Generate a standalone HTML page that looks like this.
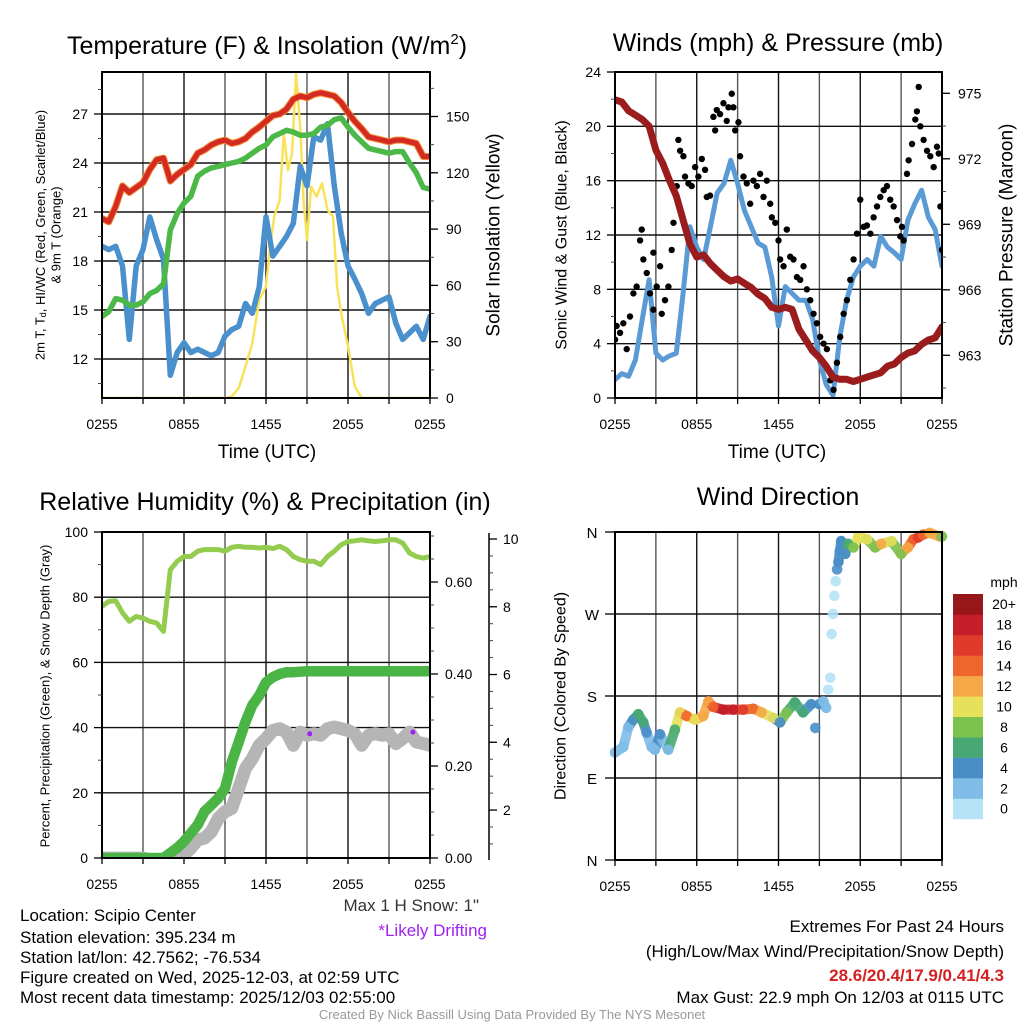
<!DOCTYPE html>
<html><head><meta charset="utf-8"><title>NYS Mesonet Scipio Center</title>
<style>
html,body{margin:0;padding:0;background:#fff;}
svg{display:block;font-family:"Liberation Sans",Arial,sans-serif;}
</style></head>
<body>
<svg id="chart" xmlns="http://www.w3.org/2000/svg" width="1024" height="1024" viewBox="0 0 1024 1024">
<defs>
<clipPath id="c1"><rect x="102" y="72" width="328" height="326"/></clipPath>
<clipPath id="c2"><rect x="615" y="72" width="327" height="326"/></clipPath>
<clipPath id="c3"><rect x="102" y="532" width="328" height="326"/></clipPath>
<clipPath id="c4"><rect x="605" y="525" width="345" height="342"/></clipPath>
</defs>
<rect x="0" y="0" width="1024" height="1024" fill="#fff"/>
<g font-size="25" text-anchor="middle" fill="#000">
<text x="267" y="54">Temperature (F) &amp; Insolation (W/m<tspan font-size="15" dy="-10">2</tspan><tspan dy="10">)</tspan></text>
<text x="778" y="51">Winds (mph) &amp; Pressure (mb)</text>
<text x="265" y="510">Relative Humidity (%) &amp; Precipitation (in)</text>
<text x="778" y="505">Wind Direction</text>
</g>
<g font-size="19" text-anchor="middle">
<text x="267" y="458">Time (UTC)</text>
<text x="777" y="458">Time (UTC)</text>
<text x="494" y="235" transform="rotate(-90 494 235)" dominant-baseline="central">Solar Insolation (Yellow)</text>
<text x="1007" y="235" transform="rotate(-90 1007 235)" dominant-baseline="central">Station Pressure (Maroon)</text>
</g>
<g font-size="16" text-anchor="middle">
<text x="562" y="235" transform="rotate(-90 562 235)" dominant-baseline="central">Sonic Wind &amp; Gust (Blue, Black)</text>
<text x="561" y="696" transform="rotate(-90 561 696)" dominant-baseline="central">Direction (Colored By Speed)</text>
</g>
<g font-size="13" text-anchor="middle">
<text x="40" y="235" transform="rotate(-90 40 235)" dominant-baseline="central">2m T, T<tspan font-size="9" dy="3">d</tspan><tspan dy="-3">, HI/WC (Red, Green, Scarlet/Blue)</tspan></text>
<text x="56" y="235" transform="rotate(-90 56 235)" dominant-baseline="central">&amp; 9m T (Orange)</text>
<text x="45" y="696" transform="rotate(-90 45 696)" dominant-baseline="central">Percent, Precipitation (Green), &amp; Snow Depth (Gray)</text>
</g>
<g font-size="17" fill="#000">
<text x="20" y="921">Location: Scipio Center</text>
<text x="20" y="943">Station elevation: 395.234 m</text>
<text x="20" y="963">Station lat/lon: 42.7562; -76.534</text>
<text x="20" y="983">Figure created on Wed, 2025-12-03, at 02:59 UTC</text>
<text x="20" y="1003">Most recent data timestamp: 2025/12/03 02:55:00</text>
<text x="479" y="911" text-anchor="end" fill="#333">Max 1 H Snow: 1"</text>
<text x="487" y="936" text-anchor="end" fill="#a020f0">*Likely Drifting</text>
<text x="1004" y="932" text-anchor="end">Extremes For Past 24 Hours</text>
<text x="1004" y="957" text-anchor="end">(High/Low/Max Wind/Precipitation/Snow Depth)</text>
<text x="1004" y="981" text-anchor="end" fill="#d42020" font-weight="bold">28.6/20.4/17.9/0.41/4.3</text>
<text x="1004" y="1003" text-anchor="end">Max Gust: 22.9 mph On 12/03 at 0115 UTC</text>
</g>
<text x="512" y="1019" font-size="13" fill="#999" text-anchor="middle">Created By Nick Bassill Using Data Provided By The NYS Mesonet</text>
<g id="layer"></g>
</svg>
<script>
// ---------- data (half-hour steps from 0255 UTC) ----------
const xTickLabels = ["0255","0855","1455","2055","0255"];
const xTickHours = [0,6,12,18,24];
const tempRed = [20.6,20.4,21.35,22.6,22.2,22.5,22.8,23.6,24.2,24.3,22.9,23.3,23.6,23.9,24.6,24.8,25.1,25.3,25.4,25.2,25.3,25.5,25.9,26.2,26.55,26.9,27.0,27.3,27.9,28.1,28.0,28.2,28.3,28.2,28.1,27.7,27.1,26.55,26.1,25.6,25.5,25.4,25.3,25.4,25.4,25.3,25.2,24.4,24.4];
const tempGreen = [14.6,14.9,15.7,15.6,15.3,15.3,15.5,16.0,16.2,16.6,19.9,20.9,21.55,21.96,23.2,23.5,23.7,23.8,23.9,24.0,24.1,24.3,24.6,24.9,25.1,25.6,25.8,26.0,25.9,25.7,25.7,25.8,26.2,26.3,26.65,26.76,26.2,25.7,25.3,24.9,24.8,24.7,24.6,24.7,24.7,24.0,23.4,22.5,22.4];
const tempBlue = [18.9,18.7,18.9,17.7,13.2,17.7,18.7,20.7,19.3,18.1,11.0,12.4,13.0,12.4,12.6,12.4,12.2,12.4,13.4,13.8,14.0,15.4,14.8,16.4,20.7,18.3,18.9,19.5,20.3,23.8,22.6,25.6,25.4,26.4,22.6,19.7,17.7,16.9,16.0,14.8,15.4,15.6,15.8,14.2,13.2,13.6,14.0,13.2,14.6];
const solarHours = [0,9.1,9.5,10,10.5,11,11.5,12,12.3,12.6,13,13.3,13.6,13.9,14.2,14.5,14.75,15.0,15.3,15.7,16.1,16.5,16.9,17.2,17.5,18,18.5,19,24];
const solarVals = [0,0,0.9,5.3,16.8,29.2,52.3,59.4,80.6,96.6,105.4,140.9,121.4,130.3,172.8,144.5,105.4,84.2,112.6,107.3,114.4,100.2,96.6,59.4,45.2,27.5,6.2,0,0];
const tempTicks = [12,15,18,21,24,27];
const solarTicks = [0,30,60,90,120,150];

const windSonic = [1.35,1.8,1.6,2.8,5.8,8.7,3.3,2.8,3.1,3.3,7.7,12.6,11.1,10.2,12.6,15.1,15.8,17.5,15.8,13.8,12.6,11.4,11.1,8.9,5.3,8.2,7.7,7.2,7.2,5.8,2.8,1.0,0.2,4.5,7.2,8.9,9.7,10.2,9.7,11.9,11.1,10.7,10.2,13.1,14.3,15.3,13.3,12.4,9.7];
const pressure = [974.7,974.6,974.2,974.0,973.8,973.5,972.4,971.8,971.0,970.3,969.2,968.1,967.5,967.6,967.2,966.9,966.6,966.4,966.5,966.3,966.1,965.8,965.6,965.2,965.1,965.2,965.1,964.2,963.7,963.2,962.9,962.5,962.0,961.9,961.9,961.8,961.9,962.0,962.1,962.2,962.5,962.6,962.9,963.1,963.2,963.5,963.7,963.8,964.3];
const gustHours = [0,0.12,0.37,0.61,0.86,1.10,1.35,1.59,1.84,1.96,2.08,2.33,2.57,2.82,2.82,3.06,3.31,3.43,3.67,3.92,4.16,4.29,4.53,4.65,4.78,5.02,5.14,5.39,5.63,5.88,6.12,6.37,6.61,6.74,6.98,7.22,7.35,7.47,7.71,7.96,8.20,8.33,8.57,8.69,8.82,9.06,9.18,9.43,9.67,9.92,10.16,10.41,10.65,10.90,11.14,11.39,11.51,11.76,12.0,12.12,12.37,12.61,12.86,13.10,13.35,13.59,13.84,14.08,14.33,14.57,14.82,15.06,15.31,15.55,15.80,16.04,16.29,16.53,16.78,17.02,17.27,17.51,17.76,18.0,18.25,18.49,18.74,18.98,19.23,19.47,19.72,19.96,20.2,20.45,20.7,20.94,21.06,21.18,21.43,21.55,21.8,22.04,22.16,22.29,22.41,22.65,22.9,23.14,23.39,23.63,23.76,23.88,24.0];
const gustVals = [4.3,5.3,4.8,5.5,3.6,6.0,7.7,8.2,11.6,12.4,10.2,9.2,7.7,10.7,6.5,8.2,9.7,6.2,7.2,8.2,10.9,12.9,15.6,19.0,18.2,17.8,16.3,15.8,15.6,17.0,16.3,17.6,16.8,14.8,14.9,20.7,19.7,21.2,20.9,21.7,20.4,21.4,22.4,21.4,19.7,20.3,17.8,16.3,15.8,14.3,16.0,15.6,16.5,14.8,16.0,14.3,13.3,12.9,11.6,10.2,9.7,12.4,10.4,10.2,8.9,8.7,9.7,8.0,7.2,6.2,5.5,4.5,4.0,3.6,1.3,0.6,2.6,4.5,6.2,7.2,8.7,10.2,12.1,14.6,12.6,12.7,12.1,13.3,14.1,14.8,15.3,15.6,14.6,14.1,13.1,11.9,12.6,11.6,16.5,17.5,18.7,20.5,21.1,22.9,20.0,19.0,18.2,17.8,17.0,18.5,18.0,14.1,10.9];
const windTicks = [0,4,8,12,16,20,24];
const pressureTicks = [963,966,969,972,975];

const rhVals = [77.2,78.7,78.9,75.2,72.6,74.1,73.6,72.6,72.1,69.5,88.4,91.0,92.5,92.5,94.1,94.6,94.6,94.6,94.1,95.3,95.6,95.3,95.3,95.1,95.3,94.9,95.6,94.6,92.5,91.5,91.0,91.0,90.0,92.5,94.1,96.1,97.1,97.3,97.6,97.3,97.1,97.3,97.6,97.6,96.6,93.6,92.5,92.0,92.5];
const precipVals = [0,0,0,0,0,0,0,0,0,0,0.011,0.022,0.036,0.054,0.072,0.101,0.115,0.130,0.151,0.209,0.252,0.296,0.332,0.353,0.382,0.393,0.400,0.404,0.404,0.405,0.406,0.406,0.406,0.406,0.406,0.406,0.406,0.406,0.406,0.406,0.406,0.406,0.406,0.406,0.406,0.406,0.406,0.406,0.406];
const snowVals = [0.58,0.58,0.58,0.58,0.58,0.58,0.58,0.53,0.48,0.48,0.48,0.53,0.68,0.87,1.12,1.17,1.36,1.75,1.95,2.05,2.64,3.23,3.52,3.91,4.11,4.35,4.40,4.30,3.91,4.30,4.21,4.25,4.21,4.40,4.45,4.40,4.35,4.25,3.91,4.21,4.25,4.21,4.25,3.96,4.11,4.30,4.01,3.96,3.91];
const driftHours = [15.2,22.75];
const driftVals = [4.25,4.3];
const rhTicks = [0,20,40,60,80,100];
const precipTicks = [0,0.2,0.4,0.6];
const precipTickLabels = ["0.00","0.20","0.40","0.60"];
const snowTicks = [2,4,6,8,10];

const dirHours = [0.0,0.61,0.98,1.34,1.71,2.08,2.32,2.69,2.93,3.30,3.91,4.40,4.77,5.26,5.87,6.48,6.85,7.21,7.95,8.68,9.41,10.15,10.76,11.61,12.11,12.6,13.2,13.8,14.4,14.7,15.0,15.3,15.5,15.65,15.8,15.9,16.0,16.1,16.2,16.3,16.4,16.5,16.6,16.9,17.1,17.5,17.85,18.5,19.1,19.55,20.3,21.0,21.5,21.9,22.25,22.6,23.1,23.85,24.0];
const dirVals = [118,124,146,154,160,151,140,124,121,138,121,143,162,158,154,158,174,168,165,165,165,166,162,156,151,162,173,162,171,145,171,174,167,187,200,248,270,290,306,319,327,339,350,336,347,343,355,352,343,347,350,336,343,352,354,357,359,355,355];
const dirSpeed = [2,2,2,4,6,6,4,2,2,4,2,6,10,14,10,12,12,14,18,18,16,14,12,10,4,8,6,6,4,4,4,2,2,0,0,0,0,0,0,4,4,4,4,4,6,8,10,10,8,12,10,8,12,14,16,14,12,12,8];
const dirTicks = [0,90,180,270,360];
const dirTickLabels = ["N","E","S","W","N"];
const cbLabels = ["0","2","4","6","8","10","12","14","16","18","20+"];
const cbColors = ["#b5e3f6","#7fbde8","#4a8ec8","#48a873","#7cc24f","#e6e05a","#f5a847","#f0652b","#df3a2c","#c41e28","#961619"];

// ---------- helpers ----------
const NS = "http://www.w3.org/2000/svg";
const layer = document.getElementById('layer');
function mk(tag, a){ const e=document.createElementNS(NS,tag); for(const k in a) e.setAttribute(k,a[k]); return e; }
function lin(d0,d1,r0,r1){ return v => r0 + (v-d0)/(d1-d0)*(r1-r0); }
const halfHours = tempRed.map((_,i)=>i*0.5);

const P1 = {x0:102,w:328,top:72,bot:398};
const P2 = {x0:615,w:327,top:72,bot:398};
const P3 = {x0:102,w:328,top:532,bot:858};
const P4 = {x0:615,w:327,top:532,bot:860};
function xs(p){ return lin(0,24,p.x0,p.x0+p.w); }

const yT = lin(12,27,359,114);
const yS = lin(0,150,398,116.5);
const yW = lin(0,24,398,72);
const yP = lin(963,975,355.3,93.3);
const yRH = lin(0,100,858,532);
const yPr = lin(0,0.6,858,582);
const ySn = lin(0,10,877.8,539);
const yD = lin(0,360,860,532);

function pathFrom(hs, vs, xf, yf){
  let d=""; for(let i=0;i<vs.length;i++){ d += (i?"L":"M") + xf(hs[i]).toFixed(1) + " " + yf(vs[i]).toFixed(1); } return d;
}

function drawFrameAndGrid(p, name, gridYs){
  const g = mk('g',{});
  
  
  const xf = xs(p);
  for(let h=3; h<24; h+=3){
    const l = mk('line',{x1:xf(h),x2:xf(h),y1:p.top,y2:p.bot,stroke:(h%6===0?'#111':'#555'),'stroke-width':1.4});
    
    
    g.appendChild(l);
  }
  gridYs.forEach(y=>{
    const l = mk('line',{x1:p.x0,x2:p.x0+p.w,y1:y,y2:y,stroke:'#111','stroke-width':1.4});
    
    
    g.appendChild(l);
  });
  layer.appendChild(g);
}
function drawBorder(p, name){
  const r = mk('rect',{x:p.x0,y:p.top,width:p.w,height:p.bot-p.top,fill:'none',stroke:'#000','stroke-width':2});
  
  
  layer.appendChild(r);
  const xf = xs(p);
  for(let h=0; h<=24; h+=3){
    const t = mk('line',{x1:xf(h),x2:xf(h),y1:p.bot,y2:p.bot+6,stroke:'#000','stroke-width':1.3});
    
    
    layer.appendChild(t);
  }
  xTickLabels.forEach((lab,i)=>{
    const t = mk('text',{x:xf(xTickHours[i]),y:p.bot+31,'font-size':14,'text-anchor':'middle'});
    t.textContent = lab;
    
    
    layer.appendChild(t);
  });
}
function yAxis(name, xAxis, side, ticks, labels, yf, minorStep, lo, hi, fmtX, yMin, yMax){
  for(let v=lo; v<=hi+1e-9; v+=minorStep){
    const y=yf(v);
    if(y<yMin-0.5 || y>yMax+0.5) continue;
    const t = mk('line',{x1:xAxis,x2:xAxis+side*4,y1:y,y2:y,stroke:'#444','stroke-width':1});
    
    
    layer.appendChild(t);
  }
  ticks.forEach((v,i)=>{
    const y=yf(v);
    const t = mk('line',{x1:xAxis,x2:xAxis+side*8,y1:y,y2:y,stroke:'#000','stroke-width':1.3});
    
    
    layer.appendChild(t);
    const tx = mk('text',{x:xAxis+side*(fmtX||13),y:y+5,'font-size':14,'text-anchor':side<0?'end':'start'});
    tx.textContent = labels[i];
    
    
    layer.appendChild(tx);
  });
}
function line(hs, vs, xf, yf, color, width, clip, name){
  const pth = mk('path',{d:pathFrom(hs,vs,xf,yf),fill:'none',stroke:color,'stroke-width':width,'stroke-linejoin':'round','stroke-linecap':'round','clip-path':'url(#'+clip+')'});
  
  
  layer.appendChild(pth);
}

// ---------- Panel 1: temperature ----------
drawFrameAndGrid(P1,'temp',tempTicks.map(yT));
const x1 = xs(P1);
line(solarHours, solarVals, x1, yS, '#f8e25a', 2.5, 'c1', 'solar-line');
line(halfHours, tempBlue, x1, yT, '#4a90cc', 5.5, 'c1', 'wetbulb-blue-line');
line(halfHours, tempGreen, x1, yT, '#4cb848', 5.5, 'c1', 'dewpoint-green-line');
line(halfHours, tempRed, x1, yT, '#f28a30', 7, 'c1', '9m-temp-orange-line');
line(halfHours, tempRed, x1, yT, '#d42a24', 5, 'c1', 'temp-red-line');
drawBorder(P1,'temp');
yAxis('temp-y', 102, -1, tempTicks, tempTicks.map(String), yT, 1.5, 10.5, 28.5, 14, 72, 398);
yAxis('solar-y', 430, 1, solarTicks, solarTicks.map(String), yS, 15, 0, 165, 16, 72, 398);

// ---------- Panel 2: winds ----------
drawFrameAndGrid(P2,'wind',windTicks.map(yW));
const x2 = xs(P2);
line(halfHours, windSonic, x2, yW, '#5b9bd5', 5, 'c2', 'sonic-wind-line');
gustHours.forEach((h,i)=>{
  const c = mk('circle',{cx:x2(h),cy:yW(gustVals[i]),r:3.2,fill:'#000','clip-path':'url(#c2)'});
  
  
  layer.appendChild(c);
});
line(halfHours, pressure, x2, yP, '#9b1c1c', 7, 'c2', 'pressure-line');
drawBorder(P2,'wind');
yAxis('wind-y', 615, -1, windTicks, windTicks.map(String), yW, 2, 0, 24, 14, 72, 398);
yAxis('pressure-y', 942, 1, pressureTicks, pressureTicks.map(String), yP, 1.5, 961.5, 976.5, 16, 72, 398);

// ---------- Panel 3: humidity ----------
drawFrameAndGrid(P3,'rh',rhTicks.map(yRH));
const x3 = xs(P3);
line(halfHours, rhVals, x3, yRH, '#93cc4f', 5, 'c3', 'humidity-line');
line(halfHours, snowVals, x3, ySn, '#b5b5b5', 13, 'c3', 'snow-depth-line');
line(halfHours, precipVals, x3, yPr, '#4ab545', 10.5, 'c3', 'precip-line');
driftHours.forEach((h,i)=>{
  const c = mk('circle',{cx:x3(h),cy:ySn(driftVals[i]),r:2.5,fill:'#a020f0'});
  
  
  layer.appendChild(c);
});
drawBorder(P3,'rh');
yAxis('rh-y', 102, -1, rhTicks, rhTicks.map(String), yRH, 10, 0, 100, 14, 532, 858);
yAxis('precip-y', 430, 1, precipTicks, precipTickLabels, yPr, 0.05, 0, 0.7, 15, 532, 858);
const snowAx = mk('line',{x1:489,x2:489,y1:533,y2:860,stroke:'#000','stroke-width':1.5});


layer.appendChild(snowAx);
yAxis('snow-y', 489, 1, snowTicks, snowTicks.map(String), ySn, 0.5, 0.5, 10, 14, 533, 860);

// ---------- Panel 4: wind direction ----------
drawFrameAndGrid(P4,'dir',dirTicks.map(yD));
const x4 = xs(P4);
function spColor(s){ return cbColors[Math.min(10, Math.round(s/2))]; }
for(let i=1;i<dirHours.length;i++){
  if(Math.abs(dirVals[i]-dirVals[i-1])<25 && dirVals[i]<240 === dirVals[i-1]<240 && !(dirVals[i]>185 && dirVals[i]<330)){
    const s = mk('line',{x1:x4(dirHours[i-1]),y1:yD(dirVals[i-1]),x2:x4(dirHours[i]),y2:yD(dirVals[i]),stroke:spColor(dirSpeed[i]),'stroke-width':10,'stroke-linecap':'round',opacity:0.9,'clip-path':'url(#c4)'});
    
    
    layer.appendChild(s);
  }
}
dirHours.forEach((h,i)=>{
  const c = mk('circle',{cx:x4(h),cy:yD(dirVals[i]),r:5.3,fill:spColor(dirSpeed[i]),opacity:0.9,'clip-path':'url(#c4)'});
  
  
  layer.appendChild(c);
});
drawBorder(P4,'dir');
dirTicks.forEach((v,i)=>{
  const t = mk('line',{x1:605,x2:615,y1:yD(v),y2:yD(v),stroke:'#000','stroke-width':1.3});
  
  
  layer.appendChild(t);
  const tx = mk('text',{x:592,y:yD(v)+6,'font-size':15,'text-anchor':'middle'});
  tx.textContent = dirTickLabels[i];
  
  
  layer.appendChild(tx);
});
// colorbar
const cbTop = 594, cbH = 20.45;
cbColors.forEach((col,i)=>{
  const y = cbTop + (10-i)*cbH;
  const r = mk('rect',{x:953,y:y,width:30,height:cbH+0.3,fill:col});
  
  
  layer.appendChild(r);
  const t = mk('text',{x:1004,y:y+cbH/2+5,'font-size':14,'text-anchor':'middle'});
  t.textContent = cbLabels[i];
  
  
  layer.appendChild(t);
});
const mph = mk('text',{x:1004,y:587,'font-size':14,'text-anchor':'middle'});
mph.textContent = 'mph';


layer.appendChild(mph);
</script>
</body></html>
